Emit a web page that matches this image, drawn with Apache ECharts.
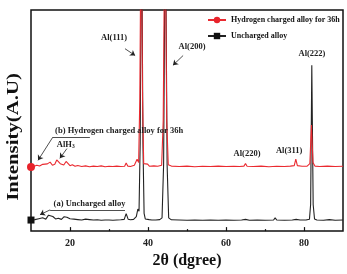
<!DOCTYPE html>
<html>
<head>
<meta charset="utf-8">
<script src="https://cdn.jsdelivr.net/npm/echarts@6/dist/echarts.min.js"></script>
<style>
html, body { margin: 0; padding: 0; background: #fff; }
#xrd { width: 347px; height: 274px; }
</style>
</head>
<body>
<div id="xrd"></div>
<script>
const seriesNames = ['Hydrogen charged alloy for 36h', 'Uncharged alloy'];
const majorTicks = [20, 40, 60, 80];
const minorTicks = [30, 50, 70];

// (a) uncharged alloy, [2theta, intensity]
const uncharged = [
    [10, 5.0], [11, 5.2], [12, 5.6], [13, 6.0], [13.8, 5.4], [14.5, 7.2], [15, 7.9], [15.6, 6.6],
    [16.3, 5.5], [17, 5.8], [17.8, 5.3], [18.5, 6.5], [19.2, 6.3], [20, 5.6], [21, 5.4], [22, 5.2],
    [23, 5.0], [24, 5.4], [25, 5.2], [26, 5.0], [27, 5.1], [28, 4.9], [29, 5.0], [30, 5.0],
    [31, 4.9], [32, 5.0], [33, 5.1], [33.9, 5.3], [34.4, 7.9], [34.9, 5.4], [35.5, 5.1], [36.3, 5.3],
    [37, 6.5], [37.4, 10], [37.7, 9], [38.0, 40], [38.35, 150], [38.7, 40], [39.0, 8], [39.3, 5.5],
    [39.8, 6.3], [40.3, 5.2], [41, 5.0], [42, 5.0], [43, 5.2], [43.6, 6], [44.0, 30], [44.45, 150],
    [44.9, 30], [45.3, 6], [46, 5.1], [48, 5.0], [50, 4.9], [52, 5.0], [54, 4.9], [56, 5.0],
    [58, 4.9], [60, 5.0], [62, 4.9], [64, 5.0], [65, 5.3], [66, 4.9], [68, 5.0], [70, 4.9],
    [72.2, 5.0], [72.6, 6.0], [73.0, 5.0], [75, 4.9], [77, 5.0], [78, 5.3], [79, 5.0], [80.5, 5.0],
    [81.4, 5.4], [81.7, 12], [82.0, 75], [82.35, 12], [82.7, 5.5], [83.3, 5.0], [85, 4.9], [86.5, 5.2],
    [88, 4.9], [90, 5.0]
];

// (b) hydrogen charged alloy for 36h
const charged = [
    [10, 29.0], [10.8, 29.3], [11.5, 29.8], [12.2, 29.4], [13, 30.2], [13.5, 29.5], [14.2, 30.4], [14.9, 31.2],
    [15.5, 29.8], [16.1, 30.2], [16.6, 32.2], [17.0, 32.5], [17.5, 30.5], [18.0, 31.2], [18.4, 29.9], [19.0, 31.5],
    [19.5, 31.0], [20, 29.6], [20.6, 30.0], [21.3, 29.3], [22, 29.7], [23, 29.2], [24, 29.5], [25, 29.1],
    [26, 29.4], [27, 29.2], [28, 29.5], [29, 29.1], [30, 29.3], [31, 29.2], [32, 29.4], [33, 29.2],
    [34, 29.3], [34.4, 30.8], [34.8, 29.4], [35.5, 29.2], [36.5, 29.8], [37.2, 32.5], [37.6, 31], [37.9, 60],
    [38.25, 150], [38.6, 60], [38.9, 30.5], [39.4, 29.6], [39.9, 30.3], [40.4, 29.3], [41.5, 29.5], [42.5, 29.3],
    [43.5, 29.8], [43.9, 50], [44.35, 150], [44.8, 50], [45.2, 30], [46, 29.4], [48, 29.2], [50, 29.4],
    [52, 29.1], [54, 29.3], [56, 29.2], [58, 29.4], [60, 29.2], [62, 29.3], [63.5, 29.2], [64.6, 29.4],
    [65.0, 30.6], [65.4, 29.3], [67, 29.2], [69, 29.4], [71, 29.1], [73, 29.3], [75, 29.2], [76.5, 29.4],
    [77.5, 29.6], [77.9, 32.5], [78.3, 29.6], [79.5, 29.3], [80.8, 29.4], [81.5, 30.5], [81.9, 48], [82.3, 31],
    [82.8, 29.4], [84, 29.2], [86, 29.4], [88, 29.2], [90, 29.3]
];

// annotation texts [2theta, intensity, text]
const peakLabels = [
    [31.3, 87.3, 'Al(111)'],
    [51.3, 83.3, 'Al(200)'],
    [82.05, 80.3, 'Al(222)'],
    [65.4, 35.1, 'Al(220)'],
    [76.2, 36.4, 'Al(311)'],
    [18.9, 39.0, 'AlH{sub|3}'],
    [32.6, 45.2, '(b) Hydrogen charged alloy for 36h'],
    [25.0, 12.3, '(a) Uncharged alloy']
];
// pointer lines [x1, y1, x2, y2, arrow]
const pointers = [
    [34.1, 82.5, 36.7, 79.4, true],
    [49.0, 79.4, 46.4, 75.0, true],
    [19.2, 37.3, 17.4, 32.9, true],
    [15.6, 42.5, 25.1, 42.5, false],
    [15.6, 42.5, 11.8, 32.0, true],
    [14.9, 9.6, 34.1, 9.6, false],
    [14.9, 9.6, 12.3, 7.4, true]
];

const serif = '"Liberation Serif", "Times New Roman", serif';

function firstSymbol(size) {
    return (val, params) => params.dataIndex === 0 ? size : 0;
}

const chart = echarts.init(document.getElementById('xrd'));
chart.setOption({
    backgroundColor: '#fff',
    animation: false,
    grid: { left: 31, right: 4, top: 10, bottom: 36, show: true, borderColor: '#111', borderWidth: 1.5 },
    legend: {
        data: seriesNames,
        orient: 'vertical', left: 202, top: 11,
        itemWidth: 18, itemHeight: 8, itemGap: 8,
        textStyle: { fontFamily: serif, fontWeight: 'bold', fontSize: 8, color: '#111' }
    },
    xAxis: [{
        type: 'value', min: 10, max: 90,
        axisLine: { show: false },
        splitLine: { show: false },
        axisTick: { inside: true, length: 4, customValues: majorTicks, lineStyle: { color: '#111', width: 1.2 } },
        axisLabel: { customValues: majorTicks, margin: 7, fontFamily: serif, fontWeight: 'bold', fontSize: 10, color: '#222' },
        name: '2θ (dgree)', nameLocation: 'middle', nameGap: 20,
        nameTextStyle: { fontFamily: serif, fontWeight: 'bold', fontSize: 16, color: '#111' }
    }, {
        type: 'value', min: 10, max: 90, position: 'bottom',
        axisLine: { show: false }, splitLine: { show: false }, axisLabel: { show: false },
        axisTick: { inside: true, length: 2, customValues: minorTicks, lineStyle: { color: '#111', width: 1.2 } }
    }],
    yAxis: {
        type: 'value', min: 0, max: 100,
        axisLine: { show: false }, axisTick: { show: false }, axisLabel: { show: false }, splitLine: { show: false }
    },
    graphic: [{
        type: 'text', x: 14, y: 137, rotation: Math.PI / 2, scaleX: 1.3,
        style: {
            text: 'Intensity(A.U)', font: 'bold 16px ' + serif, fill: '#111',
            textAlign: 'center', textVerticalAlign: 'middle'
        }
    }],
    series: [{
        name: seriesNames[1], type: 'line', data: uncharged, clip: true,
        symbol: 'rect', symbolSize: firstSymbol(7), showAllSymbol: true,
        itemStyle: { color: '#111' }, lineStyle: { color: '#222', width: 1.1 }, z: 2
    }, {
        name: seriesNames[0], type: 'line', data: charged, clip: true,
        symbol: 'circle', symbolSize: firstSymbol(8), showAllSymbol: true,
        itemStyle: { color: '#e8232b' }, lineStyle: { color: '#ea2a30', width: 1.1 }, z: 3,
        markPoint: {
            symbol: 'circle', symbolSize: 1, itemStyle: { color: 'rgba(0,0,0,0)' },
            label: {
                show: true, position: 'inside', fontFamily: serif, fontWeight: 'bold', fontSize: 8.5, color: '#222',
                rich: { sub: { fontFamily: serif, fontWeight: 'bold', fontSize: 5.5, color: '#222', padding: [4, 0, 0, 0] } }
            },
            data: peakLabels.map(p => ({ coord: [p[0], p[1]], label: { formatter: p[2] } }))
        },
        markLine: {
            silent: true, symbolSize: 5, animation: false,
            label: { show: false },
            lineStyle: { color: '#222', width: 0.8, type: 'solid' },
            data: pointers.map(p => [
                { coord: [p[0], p[1]], symbol: 'none' },
                { coord: [p[2], p[3]], symbol: p[4] ? 'arrow' : 'none' }
            ])
        }
    }]
});
window.addEventListener('resize', () => chart.resize());
</script>
</body>
</html>
